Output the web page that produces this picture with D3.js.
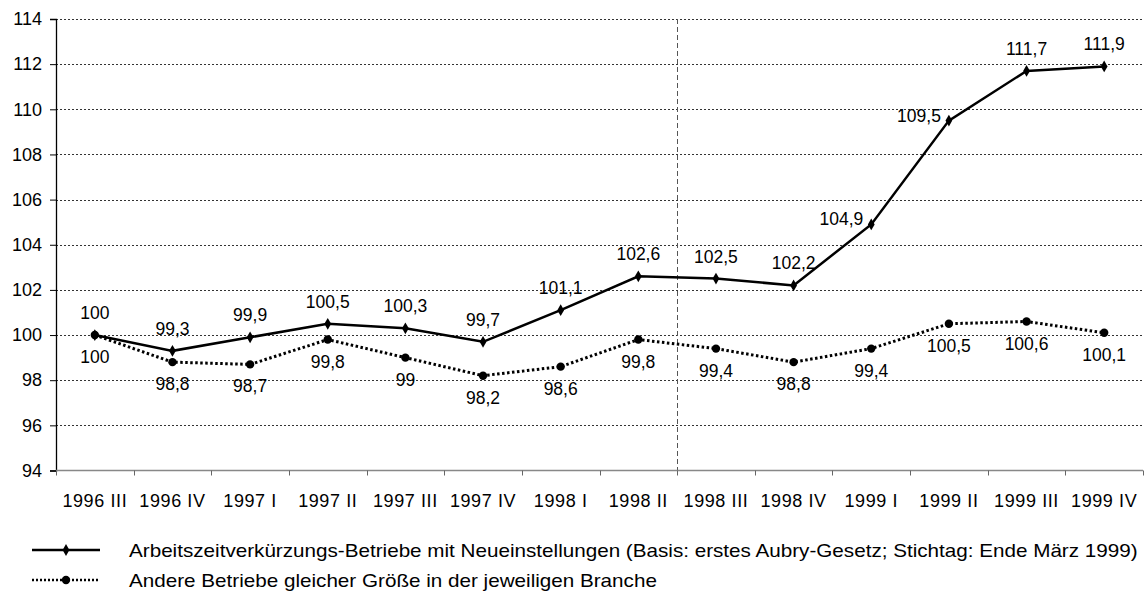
<!DOCTYPE html>
<html>
<head>
<meta charset="utf-8">
<script src="https://cdn.jsdelivr.net/npm/d3@7"></script>
<style>
  body { margin: 0; background: #fff; }
  svg { display: block; font-family: "Liberation Sans", Arial, sans-serif; }
</style>
</head>
<body>
<svg id="chart" width="1145" height="592"></svg>
<script>
// quarters
const quarters = ["1996 III", "1996 IV", "1997 I", "1997 II", "1997 III", "1997 IV", "1998 I",
                  "1998 II", "1998 III", "1998 IV", "1999 I", "1999 II", "1999 III", "1999 IV"];
const azkValues = [100, 99.3, 99.9, 100.5, 100.3, 99.7, 101.1, 102.6, 102.5, 102.2, 104.9, 109.5, 111.7, 111.9];
const otherValues = [100, 98.8, 98.7, 99.8, 99, 98.2, 98.6, 99.8, 99.4, 98.8, 99.4, 100.5, 100.6, 100.1];
// where the label of the AZK series sits
const azkLabelPos = ["above", "above", "above", "above", "above", "above", "above",
                     "above", "above", "above", "left", "left", "above", "above"];
const yTicks = [94, 96, 98, 100, 102, 104, 106, 108, 110, 112, 114];
const legendNames = [
  "Arbeitszeitverkürzungs-Betriebe mit Neueinstellungen (Basis: erstes Aubry-Gesetz; Stichtag: Ende März 1999)",
  "Andere Betriebe gleicher Größe in der jeweiligen Branche"
];
const splitAfter = "1998 II"; // dashed vertical line

const svg = d3.select("#chart");
const plot = {left: 56, right: 1143, top: 19, bottom: 470.5};
const fmt = v => String(v).replace(".", ",");
const crisp = v => Math.round(v) + 0.5;

const x = d3.scaleBand().domain(quarters).range([plot.left, plot.right]);
const y = d3.scaleLinear().domain([94, 114]).range([plot.bottom, plot.top]);
const cx = d => x(d) + x.bandwidth() / 2;

// gridlines
svg.append("g")
  .selectAll("line")
  .data(yTicks.filter(t => t > 94))
  .join("line")
    .attr("x1", plot.left).attr("x2", plot.right)
    .attr("y1", d => crisp(y(d))).attr("y2", d => crisp(y(d)))
    .attr("stroke", "#333").attr("stroke-width", 1)
    .attr("stroke-dasharray", "2,2");

// vertical split line
const splitX = crisp(x(splitAfter) + x.bandwidth());
svg.append("line")
  .attr("x1", splitX).attr("x2", splitX)
  .attr("y1", plot.top).attr("y2", plot.bottom)
  .attr("stroke", "#555").attr("stroke-width", 1)
  .attr("stroke-dasharray", "5,3");

// y axis
const yAxis = svg.append("g")
  .attr("transform", `translate(${plot.left},0)`)
  .call(d3.axisLeft(y).tickValues(yTicks).tickSize(6).tickPadding(8).tickFormat(d => d));
yAxis.select(".domain").attr("stroke", "#000").attr("stroke-width", 1.3);
yAxis.selectAll(".tick line").attr("stroke", "#000");
yAxis.selectAll("text").attr("font-size", 18).attr("fill", "#000")
  .attr("font-family", "Liberation Sans, Arial, sans-serif");

// x axis
const xAxisG = svg.append("g").attr("transform", `translate(0,${plot.bottom})`);
xAxisG.append("line")
  .attr("x1", plot.left).attr("x2", plot.right)
  .attr("stroke", "#888").attr("stroke-width", 1.5);
xAxisG.selectAll(".xtick")
  .data(quarters.map(q => x(q)).concat([plot.right]))
  .join("line")
    .attr("class", "xtick")
    .attr("x1", d => crisp(d)).attr("x2", d => crisp(d))
    .attr("y1", 0).attr("y2", 5)
    .attr("stroke", "#666");
xAxisG.selectAll(".xlabel")
  .data(quarters)
  .join("text")
    .attr("class", "xlabel")
    .attr("x", d => cx(d))
    .attr("y", 36.5)
    .attr("text-anchor", "middle")
    .attr("font-size", 18)
    .attr("letter-spacing", 0.6)
    .text(d => d);

// lines
const line = vals => d3.line()
  .x((d, i) => cx(quarters[i]))
  .y(d => y(d))(vals);

svg.append("path")
  .attr("d", line(otherValues))
  .attr("fill", "none").attr("stroke", "#000")
  .attr("stroke-width", 3).attr("stroke-dasharray", "2.5,2.5");

svg.append("path")
  .attr("d", line(azkValues))
  .attr("fill", "none").attr("stroke", "#000")
  .attr("stroke-width", 2.5);

const diamond = d3.symbol().type(d3.symbolDiamond).size(40);

svg.append("g").selectAll("circle")
  .data(otherValues)
  .join("circle")
    .attr("cx", (d, i) => cx(quarters[i]))
    .attr("cy", d => y(d))
    .attr("r", 4.2)
    .attr("fill", "#000");

svg.append("g").selectAll("path")
  .data(azkValues)
  .join("path")
    .attr("d", diamond)
    .attr("transform", (d, i) => `translate(${cx(quarters[i])},${y(d)})`)
    .attr("fill", "#000");

// data labels
svg.append("g").selectAll("text")
  .data(azkValues)
  .join("text")
    .attr("font-size", 17.5)
    .attr("text-anchor", (d, i) => azkLabelPos[i] === "left" ? "end" : "middle")
    .attr("x", (d, i) => azkLabelPos[i] === "left" ? cx(quarters[i]) - 8 : cx(quarters[i]))
    .attr("y", (d, i) => azkLabelPos[i] === "left" ? y(d) + 1 : y(d) - 16)
    .text(d => fmt(d));

svg.append("g").selectAll("text")
  .data(otherValues)
  .join("text")
    .attr("font-size", 17.5)
    .attr("text-anchor", "middle")
    .attr("x", (d, i) => cx(quarters[i]))
    .attr("y", d => y(d) + 28)
    .text(d => fmt(d));

// legend
const legend = svg.append("g");
const legY = [550, 580];
legend.append("line")
  .attr("x1", 32).attr("x2", 100).attr("y1", legY[0]).attr("y2", legY[0])
  .attr("stroke", "#000").attr("stroke-width", 2.5);
legend.append("path")
  .attr("d", diamond)
  .attr("transform", `translate(66,${legY[0]})`);
legend.append("line")
  .attr("x1", 32).attr("x2", 100).attr("y1", legY[1]).attr("y2", legY[1])
  .attr("stroke", "#000").attr("stroke-width", 2.5).attr("stroke-dasharray", "2,2");
legend.append("circle")
  .attr("cx", 66).attr("cy", legY[1]).attr("r", 4.2);
legend.selectAll("text")
  .data(legendNames)
  .join("text")
    .attr("transform", (d, i) => `translate(129,${legY[i] + 6.5}) scale(1.148,1)`)
    .attr("font-size", 18)
    .text(d => d);
</script>
</body>
</html>
